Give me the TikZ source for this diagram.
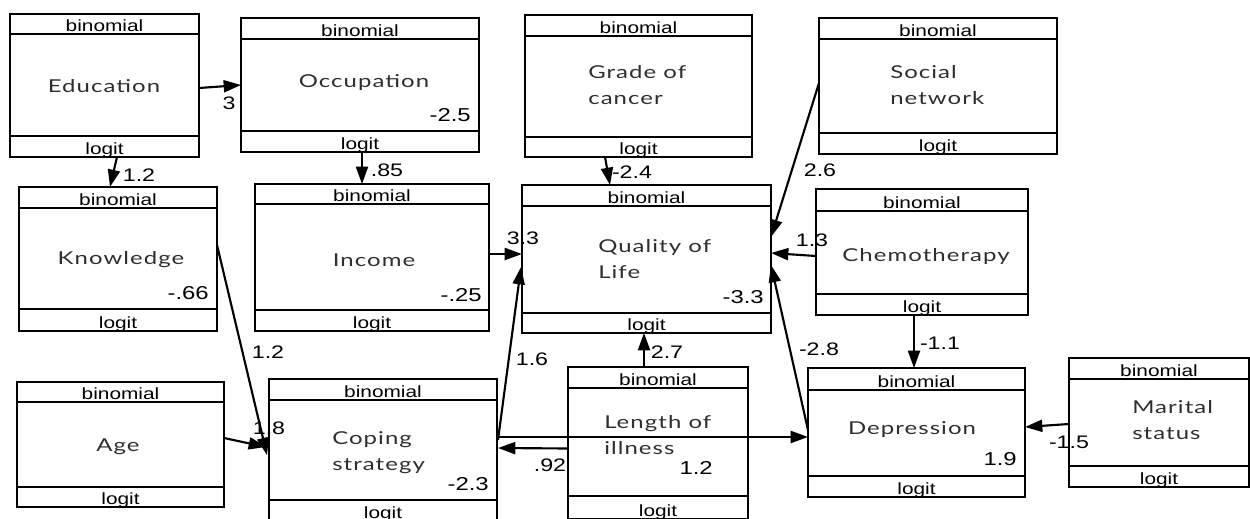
\documentclass[tikz,border=0pt]{standalone}
\usepackage{fontspec}
\setmainfont{Liberation Sans}
\newfontfamily\lblfont[FakeStretch=1.28]{Liberation Sans}
\newfontfamily\namefont[FakeStretch=1.35,LetterSpace=6]{Lato}
\usetikzlibrary{arrows.meta,calc}

\tikzset{
 box/.style={draw, line width=2.2pt, rectangle, inner sep=0pt, outer sep=0pt, anchor=north west},
 divider/.style={line width=2.2pt},
 lbl/.style={font=\lblfont\fontsize{12.2}{14}\selectfont, inner sep=0pt, anchor=base},
 nm/.style={font=\namefont\fontsize{13.3}{19.5}\selectfont, text=black!82, inner sep=0pt, align=left},
 num/.style={font=\lblfont\fontsize{14}{15}\selectfont, inner sep=0pt, anchor=east},
 elab/.style={font=\lblfont\fontsize{13.6}{15}\selectfont, inner sep=0pt},
 arr/.style={line width=1.6pt, -{Triangle[length=13pt,width=9pt]}},
}

% name, x1, y1, x2, y2, header line y, footer line y
\newcommand\sembox[7]{%
 \node[lbl] (#1-b) at ({(#2+#4)/2},{#6-3}) {binomial};
 \node[lbl] (#1-l) at ({(#2+#4)/2},{#5-3}) {logit};
 \draw[divider] (#2,#6) -- (#4,#6) (#2,#7) -- (#4,#7);
 \node[box, minimum width={(#4-#2)*0.75pt}, minimum height={(#5-#3)*0.75pt}] (#1) at (#2,#3) {};
}

\begin{document}
\begin{tikzpicture}[x=0.75pt,y=-0.75pt]
\useasboundingbox (0,0) rectangle (1250,518);
\clip (0,0) rectangle (1250,518);

% boxes
\sembox{edu}{10}{14}{199}{157}{34}{136}
\sembox{occ}{241}{18}{479}{152}{39}{131}
\sembox{grade}{525}{15}{752}{157}{36}{137}
\sembox{social}{819}{18}{1057}{154}{39}{133}
\sembox{know}{19}{187}{217}{331}{208}{309}
\sembox{inc}{255}{184}{489}{331}{204}{310}
\sembox{qol}{522}{185}{771}{333}{206}{313}
\sembox{chemo}{816}{189}{1028}{315}{211}{294}
\sembox{age}{17}{382}{224}{507}{402}{487}
\sembox{coping}{269}{379}{497}{521}{400}{500}
\sembox{length}{568}{367}{748}{519}{388}{496}
\sembox{dep}{808}{368}{1025}{497}{390}{476}
\sembox{marital}{1069}{358}{1249}{487}{379}{466}

% names
\node[nm] (edu-n) at (104,86) {Education};
\node[nm] (occ-n) at (364,83) {Occupation};
\node[nm, anchor=west] (grade-n) at (588,85.5) {Grade of\\cancer};
\node[nm, anchor=west] (social-n) at (890,85) {Social\\network};
\node[nm] (know-n) at (121,260) {Knowledge};
\node[nm] (inc-n) at (374,260) {Income};
\node[nm, anchor=west] (qol-n) at (598,259) {Quality of\\Life};
\node[nm] (chemo-n) at (926,256) {Chemotherapy};
\node[nm] (age-n) at (118,447) {Age};
\node[nm, anchor=west] (coping-n) at (332,452.5) {Coping\\strategy};
\node[nm, anchor=west] (length-n) at (604,435.5) {Length of\\illness};
\node[nm] (dep-n) at (912,430) {Depression};
\node[nm, anchor=west] (marital-n) at (1132,420.5) {Marital\\status};

% intercepts
\node[num] (occ-v) at (471,115) {-2.5};
\node[num] (know-v) at (209,293) {-.66};
\node[num] (inc-v) at (482,295) {-.25};
\node[num] (qol-v) at (764,297) {-3.3};
\node[num] (coping-v) at (489,484) {-2.3};
\node[num] (length-v) at (713,468) {1.2};
\node[num] (dep-v) at (1017,459) {1.9};

% edge labels
\node[elab] (l1) at (229,103) {3};
\node[elab] (l2) at (139,175) {1.2};
\node[elab] (l3) at (387,170) {.85};
\node[elab] (l4) at (632,172) {-2.4};
\node[elab] (l5) at (820,170) {2.6};
\node[elab] (l6) at (523,238) {3.3};
\node[elab] (l7) at (812,240) {1.3};
\node[elab] (l8) at (268,352) {1.2};
\node[elab] (l9) at (269,428) {1.8};
\node[elab] (l10) at (532,359) {1.6};
\node[elab] (l11) at (667,352) {2.7};
\node[elab] (l13) at (550,465) {.92};
\node[elab] (l14) at (819,349) {-2.8};
\node[elab] (l15) at (940,343) {-1.1};
\node[elab] (l16) at (1069,442) {-1.5};

% connectors
\draw[arr] ($(edu.east)+(0,2.5)$) -- (occ.west);
\draw[arr] ($(edu.south)+(12.5,0)$) -- ($(know.north)+(-8,0)$);
\draw[arr] ($(occ.south)+(2,0)$) -- ($(inc.north)+(-10,0)$);
\draw[arr] ($(grade.south)+(-33.5,0)$) -- ($(qol.north)+(-36.5,0)$);
\draw[arr] ($(social.west)+(0,-3)$) -- ($(qol.east)+(0,-22)$);
\draw[arr] ($(inc.east)+(0,-3.5)$) -- ($(qol.west)+(0,-5)$);
\draw[arr] ($(chemo.west)+(0,4)$) -- ($(qol.east)+(0,-6)$);
\draw[arr] ($(know.east)+(0,-14)$) -- ($(coping.west)+(-2,5)$);
\draw[arr] ($(age.east)+(0,-6.5)$) -- ($(coping.west)+(-3,-3)$);
\draw[arr] ($(coping.east)+(1,-10)$) -- ($(qol.west)+(-1,8)$);
\draw[arr] ($(length.north)+(-14,0)$) -- ($(qol.south)+(-2.5,0)$);
\draw[arr] ($(coping.east)+(0,-13)$) -- ($(dep.west)+(0,4.5)$);
\draw[arr] ($(length.west)+(0,5.5)$) -- ($(coping.east)+(1,-2)$);
\draw[arr] ($(dep.west)+(0,-2.5)$) -- ($(qol.east)+(0,6)$);
\draw[arr] ($(chemo.south)+(-8,0)$) -- ($(dep.north)+(-2.5,0)$);
\draw[arr] ($(marital.west)+(0,1.5)$) -- ($(dep.east)+(0,-5.5)$);
\end{tikzpicture}
\end{document}
